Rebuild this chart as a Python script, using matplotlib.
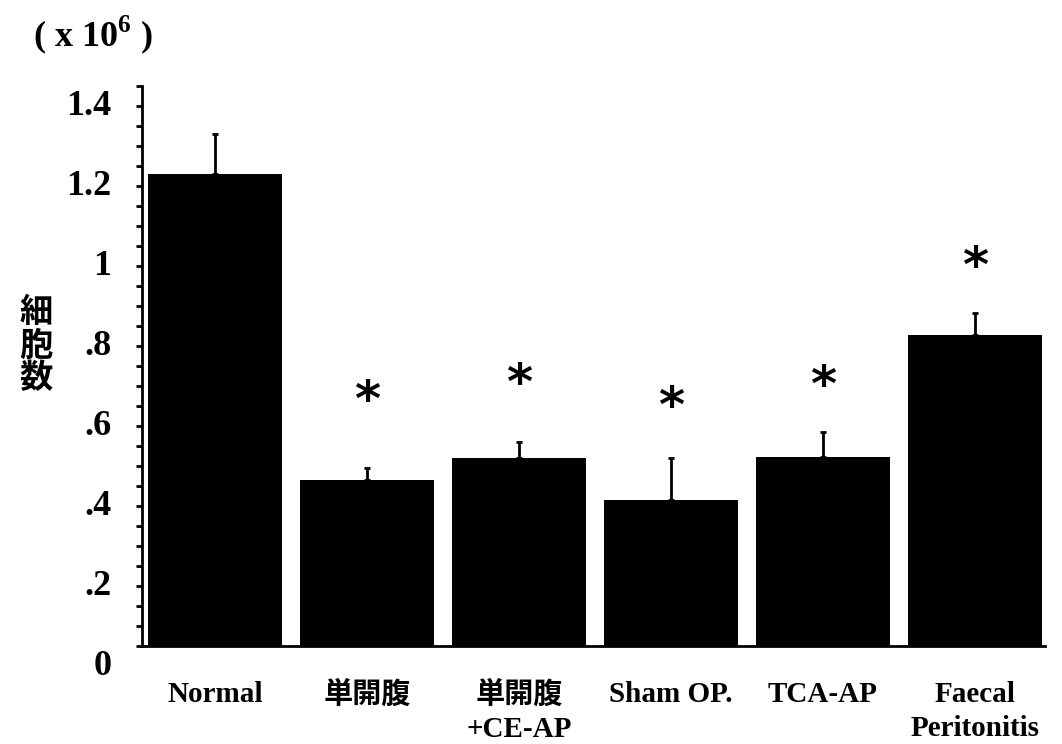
import numpy as np
import matplotlib
matplotlib.use('Agg')
import matplotlib.pyplot as plt
import matplotlib.transforms as mtransforms

plt.rcParams['font.family'] = ['Liberation Serif', 'Noto Sans CJK JP']
plt.rcParams['font.weight'] = 'bold'
plt.rcParams['mathtext.fontset'] = 'custom'
plt.rcParams['mathtext.rm'] = 'Liberation Serif:bold'

# data
groups = ['Normal', '単開腹', '単開腹\n+CE-AP', 'Sham OP.', 'TCA-AP', 'Faecal\nPeritonitis']
means = [1.18, 0.415, 0.47, 0.365, 0.473, 0.778]
errs = [0.10, 0.03, 0.04, 0.105, 0.062, 0.055]
star_y = [None, 0.61, 0.652, 0.595, 0.648, 0.945]
yticks = [0, 0.2, 0.4, 0.6, 0.8, 1.0, 1.2, 1.4]
ytick_labels = ['0', '.2', '.4', '.6', '.8', '1', '1.2', '1.4']

fig = plt.figure(figsize=(10.62, 7.44), dpi=100, facecolor='white')
ax = fig.add_axes([0.1337, 0.1317, 0.8503, 0.7527])

x = np.arange(len(groups))
ax.bar(x, means, width=0.88, color='black', zorder=2)
ax.errorbar(x, means, yerr=[np.zeros(len(errs)), errs], fmt='none',
            ecolor='black', elinewidth=2, capsize=2.5, capthick=2, zorder=3)

for xi, sy in zip(x, star_y):
    if sy is not None:
        ax.text(xi, sy, '*', ha='center', va='center', fontsize=36,
                family='DejaVu Sans', fontweight='bold')

ax.set_xlim(-0.48, 5.46)
ax.set_ylim(0, 1.4)
ax.set_yticks(yticks)
ax.set_yticklabels(ytick_labels, fontsize=26)
ax.set_yticks(np.arange(0, 1.401, 0.05), minor=True)
ax.set_xticks(x)
ax.set_xticklabels(groups, fontsize=21, linespacing=1.35)

ax.tick_params(axis='y', which='both', direction='out', length=4, width=2, pad=18)
ax.tick_params(axis='x', length=0, pad=25)

# the y labels sit a little below their ticks in the original
offset = mtransforms.ScaledTranslation(0, -0.16, fig.dpi_scale_trans)
for lab in ax.get_yticklabels():
    lab.set_transform(lab.get_transform() + offset)

for side in ['top', 'right']:
    ax.spines[side].set_visible(False)
ax.spines['left'].set_linewidth(2)
ax.spines['bottom'].set_linewidth(2)

fig.text(0.031, 0.953, '( x 10$^{6}$ )', fontsize=26, ha='left', va='center')
fig.text(0.034, 0.535, '細\n胞\n数', fontsize=24, ha='center', va='center',
         family='Noto Sans CJK JP', linespacing=1.0)

fig.savefig('out.png', dpi=100, facecolor='white')
